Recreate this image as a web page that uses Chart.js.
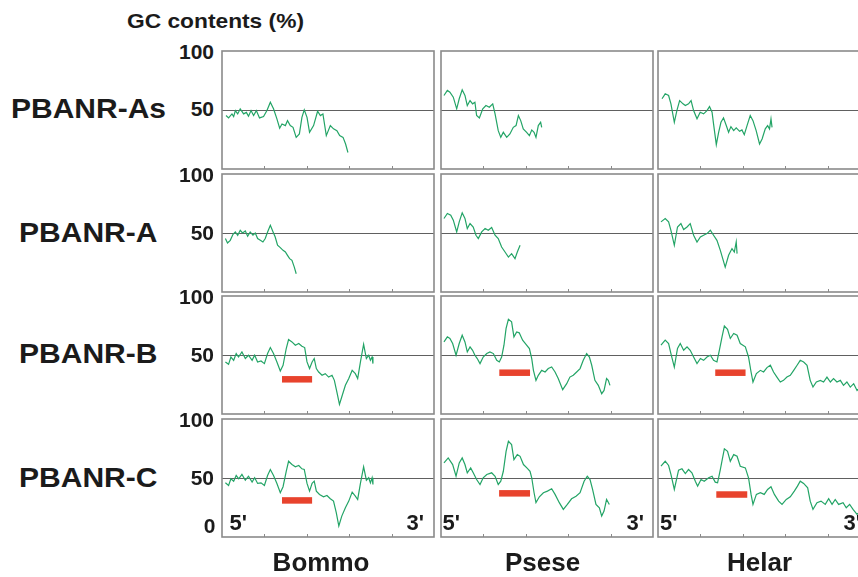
<!DOCTYPE html>
<html><head><meta charset="utf-8">
<script src="https://cdn.jsdelivr.net/npm/chart.js@4.4.1/dist/chart.umd.min.js"></script>
<style>
html,body{margin:0;padding:0;background:#fff;overflow:hidden;width:858px;height:577px}
#wrap{position:relative;width:858px;height:577px;overflow:hidden;background:#fff}
canvas.p{position:absolute}
.t{position:absolute;white-space:nowrap;font-family:"Liberation Sans",Arial,Helvetica,sans-serif;font-weight:bold;color:#1b1b1b;transform-origin:0 0}
</style></head>
<body><div id="wrap"></div>
<script>
// ---------- categories / labels ----------
const species = ["Bommo", "Psese", "Helar"];
const genes = ["PBANR-As", "PBANR-A", "PBANR-B", "PBANR-C"];
const yTickLabels = ["100", "50", "0"];
const axisTitle = "GC contents (%)";
const endLabels = ["5'", "3'"];

// ---------- GC traces: [position along gene (0-100 of panel), GC %] ----------
const asBommo = [[1.9,45.3],[3.1,43.3],[4.7,46.7],[5.5,44.4],[6.3,49.5],[7.4,46.7],[8.6,51],[10.2,46.7],[11.5,48],[12.5,44.7],[13.7,49.5],[14.9,45.3],[16.2,49.5],[17.7,43.3],[19.6,44.4],[21.2,49.5],[22.8,56.6],[24.3,51],[25.9,42.5],[27.2,34.5],[28.3,38.2],[29.9,36.8],[30.9,41],[32.2,36.8],[33.5,35.3],[35,26.8],[36.5,29.7],[37.7,43.8],[38.8,50.1],[40.1,43.8],[41.3,31.1],[43.2,36.8],[45.1,48.9],[46.4,45.3],[47.6,46.7],[49.2,28.3],[51.1,36.8],[52.6,34],[54.2,32.5],[55.5,28.3],[57.1,26.8],[58.3,21.2],[59.4,14]];
const asPsese = [[1.4,62.3],[3,66.6],[4.2,65.1],[5.8,60.9],[7.4,51],[8.6,59.5],[10,67.1],[11.3,62.3],[12.4,53.8],[13.7,58],[14.9,55.2],[16,56.6],[16.8,45.3],[18.1,43.3],[19.7,51],[21.2,53.8],[22.8,52.3],[24.4,55.2],[25.5,46.7],[27,32.5],[28.2,26.8],[29.4,31.1],[31,26.8],[32.5,29.7],[34.1,35.3],[35.4,36.8],[36.5,45.3],[37.6,41],[38.8,34],[40.4,31.1],[41.7,28.3],[42.8,33.1],[43.9,31.1],[44.8,26.8],[45.9,36.8],[47,39.6],[47.5,35.3]];
const asHelar = [[1.9,59.5],[3.4,63.7],[5,62.3],[6.1,55.2],[7.7,39.6],[8.9,49.5],[10.2,58],[11.8,55.2],[12.9,53.8],[14.4,55.2],[15.6,58],[16.8,49.5],[18.4,42.5],[19.9,48.1],[21.5,46.7],[23.1,49.5],[24.3,52.9],[25.5,48.1],[26.2,38.2],[27.5,20.6],[28.6,31.1],[29.7,39.6],[30.9,43.3],[32.2,36.8],[33.3,31.1],[34.4,35.9],[35.7,32.5],[36.9,34.8],[38.5,31.9],[39.6,33.1],[40.7,29.1],[42,36.8],[43.5,45.3],[44.8,41],[46.3,32.5],[47.9,21.2],[49.1,25.4],[50.6,34],[51.7,36.8],[52.6,34],[53.3,42.5],[53.8,35.3]];

const aBommo = [[1.6,45.3],[2.6,41.5],[3.9,43.8],[5.2,48.9],[6.3,50.9],[7.4,48.1],[8.6,52.3],[9.7,50],[11,51.7],[12.1,47.2],[13.3,50.9],[14.6,48.1],[15.7,50],[16.8,45.3],[18.1,43.8],[19.3,42.4],[20.4,45.3],[21.5,50.9],[22.8,56.6],[24.1,50.9],[25.1,46.6],[26.2,39.6],[27.5,37.6],[28.8,35.3],[29.9,33.9],[30.9,31.1],[31.9,28.3],[33,26.8],[34.1,21.1],[35,15.5]];
const aPsese = [[1.4,62.3],[3,66.6],[4.6,65.1],[5.8,60.9],[7.4,50.9],[8.6,59.4],[10,67.1],[11.3,62.3],[12.4,53.8],[13.7,58],[15.2,55.1],[16.5,48.1],[17.6,45.3],[19.2,50.9],[20.8,53.8],[22.3,52.3],[23.9,54.6],[25.5,48.1],[27,45.3],[28.6,38.1],[30.2,33.9],[31.8,29.6],[33.3,32.5],[34.9,28.3],[36,33.9],[37.3,39.6]];
const aHelar = [[1.4,59.4],[3.4,62.3],[5,59.4],[6.1,52.3],[7.7,39.6],[9.2,55.1],[10.8,58],[12.1,52.9],[13.7,55.1],[15.2,58],[16.8,48.1],[18.4,42.4],[20,46.6],[21.5,48.1],[23.1,49.5],[24.7,52.3],[26.2,48.1],[27.8,43.8],[29.4,35.3],[31.7,21.1],[33.3,31.1],[34.9,36.8],[36,33.9],[36.9,42.4],[37.3,32.5]];

const bBommo = [[1.6,44.1],[3.1,42.1],[4.2,48.3],[5.5,45.5],[6.7,51.2],[7.8,48.3],[9.4,52.6],[11,47],[12.5,49.8],[14.2,45.5],[15.4,49.8],[16.8,44.1],[18.4,44.9],[20,42.7],[21.5,51.2],[22.8,56.3],[24.3,51.2],[25.9,44.1],[27.5,36.4],[28.8,41.3],[30.3,55.5],[31.4,63.1],[33,61.1],[34.6,58.3],[36.2,59.7],[37.7,57.4],[39,56.3],[40.1,44.1],[41.3,38.5],[42.5,44.1],[43.5,47],[44.5,38.5],[45.6,35.6],[47.2,32.8],[48.7,34.2],[50.3,31.3],[51.9,32.8],[53,28.5],[54.2,18.6],[55.4,8.1],[56.7,15.7],[58.2,24.3],[59.8,30],[61.4,37],[62.9,34.2],[64,30],[65.3,44.1],[66.8,59.1],[68.1,47],[69.2,49.8],[70,45.5],[70.8,48.3],[71.2,42.7]];
const bPsese = [[1.4,61.1],[3,65.4],[4.2,64],[5.5,59.7],[7.1,49.8],[8.6,59.7],[10,66.8],[11.3,61.1],[12.4,52.6],[13.7,56.9],[14.9,54],[16,49.8],[17.1,47],[18.4,42.7],[19.9,48.3],[21.6,51.2],[23.1,52.6],[24.7,51.2],[26.3,45.5],[27.5,44.1],[28.6,48.3],[29.7,58.3],[30.7,72.5],[31.8,80.2],[33.3,78.1],[34.4,65.4],[35.7,69.6],[36.9,68.8],[38.5,62.6],[40.1,59.1],[41.7,55.5],[42.8,47],[43.6,37],[44.8,28.5],[45.9,32.8],[47.5,37],[49.1,35.6],[50.6,38.5],[52.2,39.8],[53.8,35.6],[55.3,30],[57.4,20.6],[59.3,25.7],[60.8,31.3],[62.4,32.8],[64,35.6],[65.6,38.5],[67.1,45.5],[68.7,51.2],[70,48.3],[71.1,41.3],[72.6,28.5],[74.2,24.3],[75.8,17.2],[76.9,20],[78.1,30],[78.9,28.5],[79.7,24.3]];
const bHelar = [[1.4,58.3],[3.4,62.6],[5,59.7],[6.1,51.2],[7.7,39.8],[9.2,55.5],[10.5,59.7],[12.1,54],[13.7,56.9],[15.2,54],[16.8,48.3],[18.4,42.7],[20,47],[21.5,45.5],[23.1,48.3],[24.7,49.8],[26.2,45.5],[27.8,44.1],[29.1,55.5],[30.2,65.4],[31.3,74.5],[32.8,71.7],[34.1,64],[35.7,68.3],[37.3,66.8],[38.8,59.7],[41.2,56.9],[42.7,48.3],[43.9,35.6],[44.8,27.1],[46.4,34.2],[48.3,37],[49.8,35.6],[51.4,39.3],[53,41.3],[54.5,35.6],[56.1,31.3],[57.7,27.1],[59.2,28.5],[60.8,31.3],[62.4,32.8],[64,37],[65.6,41.3],[67.1,45.5],[68.7,44.1],[70.3,41.3],[71.8,28.5],[73.1,22.8],[74.7,27.1],[76.6,28.5],[78.1,27.1],[79.7,31.3],[81.3,27.1],[82.8,30],[84.4,27.1],[86,28.5],[87.5,24.3],[89.1,27.1],[90.7,22.8],[92.3,25.7],[93.9,20],[95.6,23],[97.2,18]];

const cBommo = [[1.6,45.9],[3.1,43.7],[4.2,49.3],[5.5,47.3],[6.7,52.1],[7.9,49.3],[9.4,53],[11,48.1],[12.5,51.5],[14.2,46.5],[15.4,50.2],[16.8,45.4],[18.4,45.9],[20,43.7],[21.5,52.1],[22.8,57.2],[24.3,52.1],[25.9,45.4],[27.5,37.5],[28.8,42.6],[30.3,55.7],[31.4,64.2],[33,61.4],[34.6,59.5],[36.2,60.6],[37.7,57.8],[38.8,57.2],[40.1,45.4],[41.3,38.9],[42.5,45.4],[43.5,47.3],[44.5,38.9],[46,36.1],[47.9,34.1],[49.5,35.2],[51.1,32.4],[52.6,30.4],[53.9,20.6],[55.1,9.3],[56.5,17.7],[58.2,24.8],[59.8,30.4],[61.4,38],[62.9,34.6],[64,31.8],[65.3,45.4],[66.8,59.5],[68.1,48.1],[69.2,50.2],[70,45.9],[70.8,50.2],[71.2,44.5]];
const cPsese = [[1.4,62.8],[3.4,67],[5.5,61.4],[7.1,51.5],[8.6,62.8],[10,67],[11.3,61.4],[12.4,54.4],[14,58.6],[15.2,54.4],[16.8,48.7],[18.4,44.5],[19.9,50.2],[21.6,53],[23.9,54.4],[25.5,51.5],[27,44.5],[28.2,47.3],[29.4,55.7],[30.7,72.6],[31.8,81.1],[33.3,78.3],[34.4,65.6],[36,69.8],[37.3,68.4],[38.9,61.4],[40.5,58.6],[42,55.7],[42.8,50.2],[43.9,37.5],[44.8,29.1],[46.4,34.1],[48.3,37.5],[50.2,38.9],[52.2,40.9],[53.8,36.1],[55.8,29.1],[57.7,23.4],[59.6,27.6],[61.6,32.4],[63.7,34.6],[65.6,37.5],[67.5,47.3],[69,51.5],[70.3,48.7],[71.5,40.3],[73.1,27.6],[74.7,24.8],[75.8,17.7],[76.9,22],[78.1,31.8],[79.4,27.6]];
const cHelar = [[1.4,60],[3.4,64.2],[5,60.6],[6.1,53],[7.7,40.3],[9.7,56.6],[11.3,57.8],[12.9,53.8],[14.4,57.2],[16,54.4],[17.6,47.3],[18.7,43.1],[20.3,48.7],[21.8,47.3],[23.9,50.2],[25.5,51.5],[27,46.5],[28.1,45.9],[29.4,57.2],[30.3,65.6],[31.3,74.7],[32.8,72.6],[34.1,64.2],[35.7,69.8],[37.3,68.4],[38.8,60],[41.2,58.6],[42.7,50.2],[43.9,36.1],[44.8,27.6],[46.4,36.1],[48.3,37.5],[50.1,36.1],[51.7,40.3],[53.3,42.6],[54.9,36.1],[56.9,30.4],[58.5,27.6],[60.5,31.8],[62.4,34.1],[64.3,38.9],[65.8,43.1],[67.1,47.3],[68.7,45.4],[70.6,41.7],[71.8,30.4],[73.1,23.4],[75,29.1],[76.9,30.4],[78.9,27.6],[80.5,32.4],[82.1,27.6],[83.6,31.8],[85.2,27.6],[87.3,29.1],[88.8,24.8],[90.4,27.6],[92,23.4],[93.9,19.2],[95.6,22],[97.2,17]];

// ---------- red bars (region marks): start, end, GC level ----------
const barStartB = [28.3, 27.5, 27.0];
const barEndB   = [42.5, 42.0, 41.3];
const barLevelB = [29.4, 35.0, 35.0];
const barStartC = [28.3, 27.4, 27.5];
const barEndC   = [42.5, 42.0, 42.1];
const barLevelC = [31.0, 37.0, 36.0];

// ---------- layout & style ----------
const GREEN = '#23a466', RED = '#e8432d', FRAME = '#8a8a8a', MID = '#606060';
const colLeft = [222, 441, 658];
const rowTop = [51, 174, 296, 419];
const PW = 212, PH = 118, PAD = 4;

const traces = [
  [asBommo, asPsese, asHelar],
  [aBommo, aPsese, aHelar],
  [bBommo, bPsese, bHelar],
  [cBommo, cPsese, cHelar]
];
const bars = [null, null,
  barStartB.map((s,i)=>[s, barEndB[i], barLevelB[i]]),
  barStartC.map((s,i)=>[s, barEndC[i], barLevelC[i]])];

const wrap = document.getElementById('wrap');

const framePlugin = {
  id: 'frame',
  beforeDatasetsDraw(ch) {
    const {ctx, chartArea: a, scales: {x, y}} = ch;
    ctx.save();
    const y50 = Math.round(y.getPixelForValue(50)) + 0.5;
    ctx.strokeStyle = MID; ctx.lineWidth = 1;
    ctx.beginPath(); ctx.moveTo(a.left, y50); ctx.lineTo(a.right, y50); ctx.stroke();
    ctx.strokeStyle = FRAME; ctx.lineWidth = 1.6;
    ctx.strokeRect(a.left, a.top, a.right - a.left, a.bottom - a.top);
    ctx.lineWidth = 1;
    [20, 40, 60, 80].forEach(v => {
      const px = Math.round(x.getPixelForValue(v)) + 0.5;
      ctx.beginPath(); ctx.moveTo(px, a.bottom); ctx.lineTo(px, a.bottom - 3); ctx.stroke();
    });
    ctx.restore();
  }
};

function makePanel(r, c) {
  const cv = document.createElement('canvas');
  cv.className = 'p';
  const W = PW + 2 * PAD, H = PH + 2 * PAD;
  cv.width = W; cv.height = H;
  cv.style.left = (colLeft[c] - PAD) + 'px';
  cv.style.top = (rowTop[r] - PAD) + 'px';
  cv.style.width = W + 'px'; cv.style.height = H + 'px';
  wrap.appendChild(cv);
  const datasets = [{
    data: traces[r][c].map(p => ({x: p[0], y: p[1]})),
    borderColor: GREEN, borderWidth: 1.2, pointRadius: 0, tension: 0, fill: false
  }];
  if (bars[r]) {
    const b = bars[r][c];
    datasets.push({
      data: [{x: b[0], y: b[2]}, {x: b[1], y: b[2]}],
      borderColor: RED, borderWidth: 6.5, borderCapStyle: 'butt', pointRadius: 0, fill: false
    });
  }
  new Chart(cv, {
    type: 'line',
    data: {datasets},
    options: {
      responsive: false, animation: false, devicePixelRatio: 1, events: [],
      layout: {padding: PAD},
      plugins: {legend: {display: false}, tooltip: {enabled: false}},
      scales: {
        x: {type: 'linear', min: 0, max: 100, display: false},
        y: {type: 'linear', min: 0, max: 100, display: false}
      }
    },
    plugins: [framePlugin]
  });
}

for (let r = 0; r < 4; r++) for (let c = 0; c < 3; c++) makePanel(r, c);

// ---------- text labels ----------
function place(text, fs, base, o) {
  const s = document.createElement('span');
  s.className = 't';
  s.textContent = text;
  s.style.fontSize = fs + 'px';
  s.style.lineHeight = fs + 'px';
  s.style.top = (base - 0.8465 * fs) + 'px';
  wrap.appendChild(s);
  const nat = s.getBoundingClientRect().width;
  let sc = 1;
  if (o.width) sc = o.width / nat;
  const w = nat * sc;
  s.style.transform = 'scaleX(' + sc + ')';
  let left;
  if (o.left !== undefined) left = o.left;
  else if (o.right !== undefined) left = o.right - w;
  else left = o.center - w / 2;
  s.style.left = left + 'px';
}

place(axisTitle, 21, 28, {left: 127, width: 177});

const geneBase = [118.5, 242.7, 363.5, 488];
genes.forEach((g, i) => place(g, 28, geneBase[i], {left: i === 0 ? 11 : 18.5, width: i === 0 ? 155 : 138.5}));

const midY = [109.5, 233, 355, 478.5];
for (let r = 0; r < 4; r++) {
  place(yTickLabels[0], 21, rowTop[r] + 7.5, {right: 214});
  place(yTickLabels[1], 21, midY[r] + 6.5, {right: 214});
}
place(yTickLabels[2], 21, 533, {right: 215.5});

const fivePrimeLeft = [229.5, 442.5, 660];
const threePrimeRight = [424, 644, 861];
for (let c = 0; c < 3; c++) {
  place(endLabels[0], 22, 531, {left: fivePrimeLeft[c]});
  place(endLabels[1], 22, 531, {right: threePrimeRight[c]});
}

const speciesCenter = [321, 542.5, 759.5];
species.forEach((s, i) => place(s, 26, 571, {center: speciesCenter[i]}));
</script>
</body></html>
